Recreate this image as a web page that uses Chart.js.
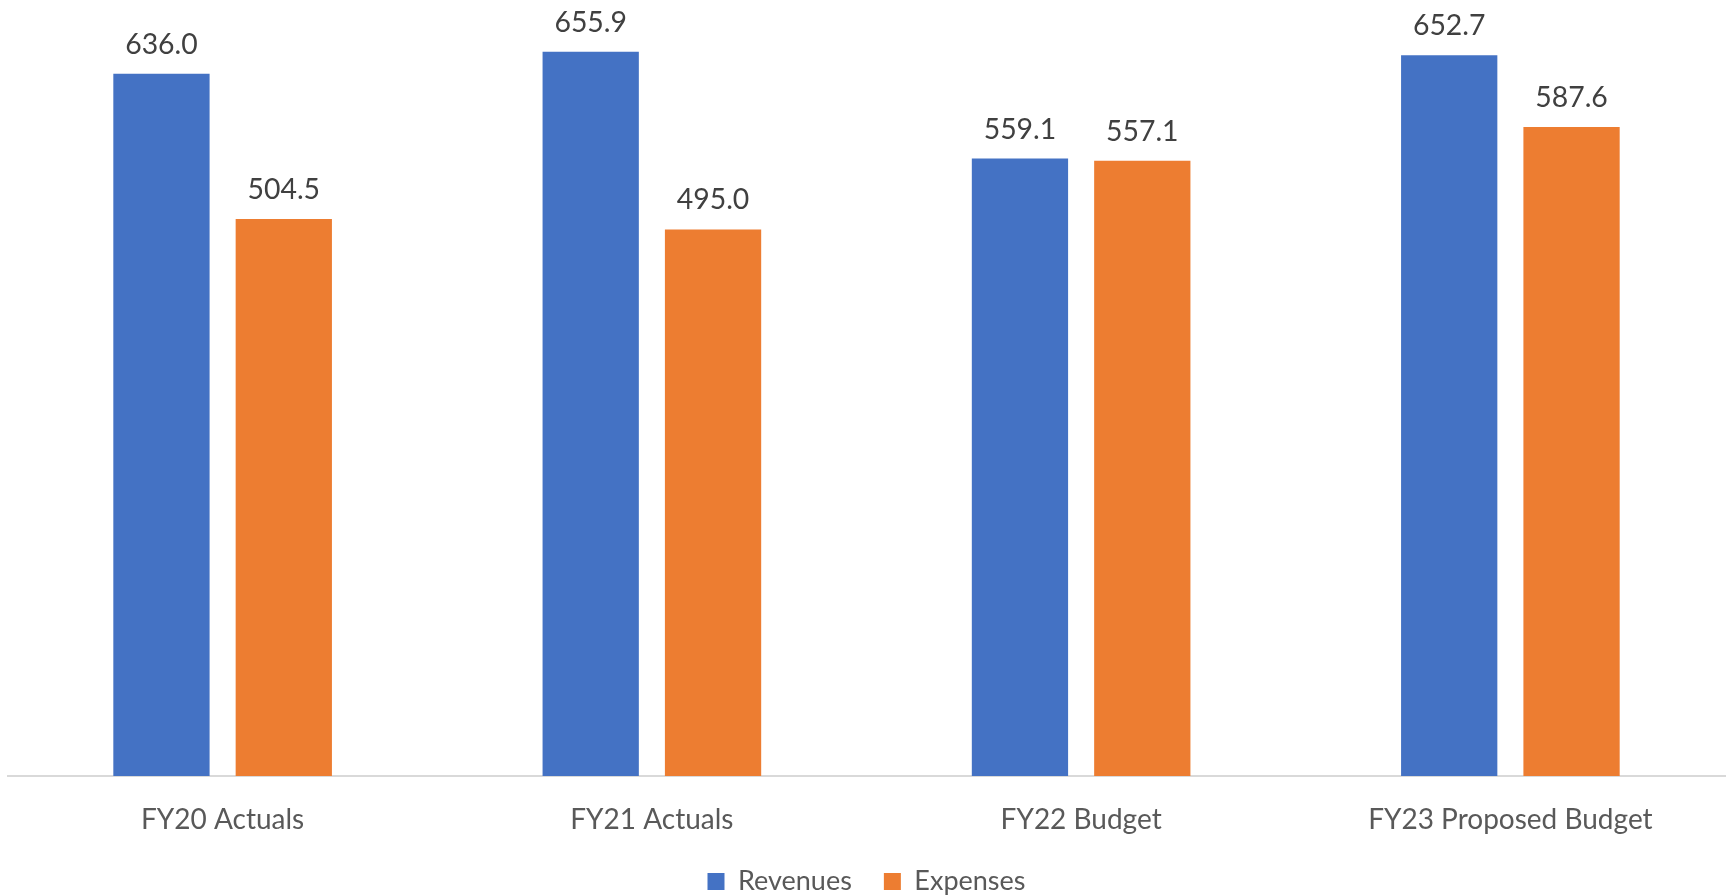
<!DOCTYPE html>
<html>
<head>
<meta charset="utf-8">
<script src="https://cdn.jsdelivr.net/npm/chart.js@4.4.1/dist/chart.umd.min.js"></script>
<style>
  html, body { margin: 0; padding: 0; background: #fff; overflow: hidden; }
  #wrap { width: 1729px; height: 895px; overflow: hidden; }
</style>
</head>
<body>
<div id="wrap"><canvas id="chart" width="1729" height="905"></canvas></div>
<script>
// ── Datos ──────────────────────────────────────────────────────────────────
const categories = ['FY20 Actuals', 'FY21 Actuals', 'FY22 Budget', 'FY23 Proposed Budget'];
const revenues   = [636.0, 655.9, 559.1, 652.7];
const expenses   = [504.5, 495.0, 557.1, 587.6];
const seriesNames = ['Revenues', 'Expenses'];

const FONT = 'Lato';

// ── Etiquetas de valor sobre las barras ────────────────────────────────────
const valueLabels = {
  id: 'valueLabels',
  afterDatasetsDraw(chart) {
    const ctx = chart.ctx;
    ctx.save();
    ctx.font = `28.4px ${FONT}`;
    ctx.fillStyle = '#404040';
    ctx.textAlign = 'center';
    ctx.textBaseline = 'alphabetic';
    chart.data.datasets.forEach((ds, i) => {
      chart.getDatasetMeta(i).data.forEach((bar, j) => {
        ctx.fillText(ds.data[j].toFixed(1), bar.x, bar.y - 20);
      });
    });
    ctx.restore();
  }
};

new Chart(document.getElementById('chart'), {
  type: 'bar',
  data: {
    labels: categories,
    datasets: [
      { label: seriesNames[0], data: revenues, backgroundColor: '#4472C4', categoryPercentage: 0.57, barPercentage: 0.787 },
      { label: seriesNames[1], data: expenses, backgroundColor: '#ED7D31', categoryPercentage: 0.57, barPercentage: 0.787 }
    ]
  },
  options: {
    responsive: false,
    animation: false,
    layout: { padding: { left: 8, right: 4, top: 3, bottom: 0 } },
    plugins: {
      tooltip: { enabled: false },
      legend: {
        position: 'bottom',
        labels: {
          boxWidth: 17, boxHeight: 17, padding: 32,
          color: '#595959',
          font: { family: FONT, size: 27 }
        }
      }
    },
    scales: {
      y: { display: false, min: 0, max: 700 },
      x: {
        grid: { display: false, drawTicks: false },
        border: { display: true, color: '#D9D9D9', width: 2 },
        ticks: { color: '#595959', padding: 30, font: { family: FONT, size: 28, lineHeight: 1 } },
        afterFit(scale) { scale.height = 60; }
      }
    }
  },
  plugins: [valueLabels]
});
</script>
</body>
</html>
